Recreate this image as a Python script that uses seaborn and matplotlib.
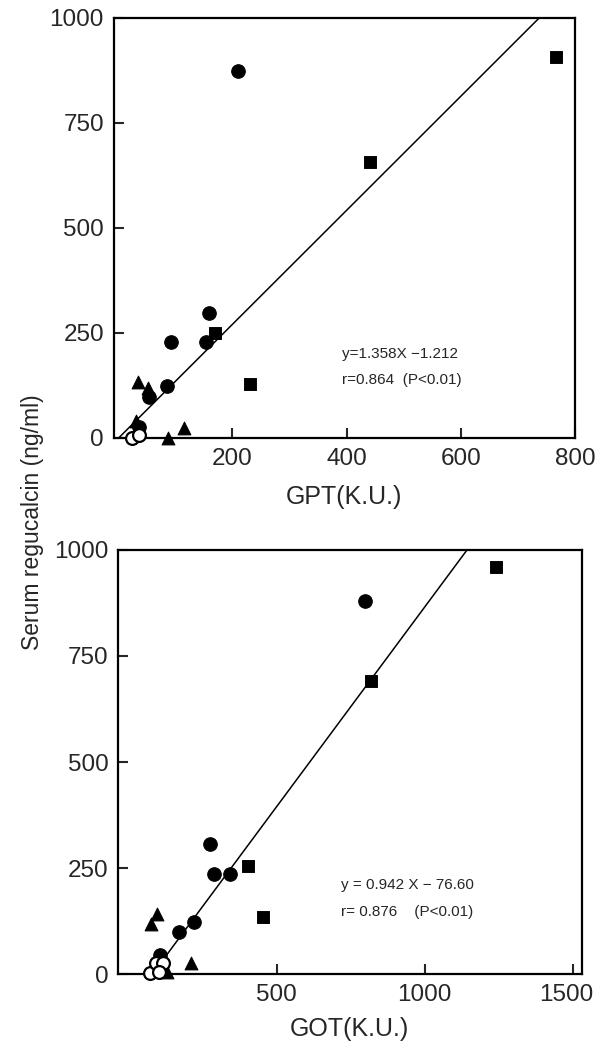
import numpy as np
import pandas as pd
import matplotlib
matplotlib.use("Agg")
import matplotlib.pyplot as plt
import matplotlib.transforms as mtransforms
import seaborn as sns

# %% values
gpt_circle_x = [209, 159, 154, 92, 85, 54, 37]
gpt_circle_y = [874, 298, 229, 229, 124, 98, 27]
gpt_square_x = [766, 441, 169, 230]
gpt_square_y = [908, 658, 251, 128]
gpt_tri_x = [35, 53, 32, 115, 88]
gpt_tri_y = [134, 118, 41, 23, 0]
gpt_open_x = [24, 36]
gpt_open_y = [0, 6]
gpt_fit = (1.358, -1.212)

got_circle_x = [800, 275, 289, 342, 223, 172, 106]
got_circle_y = [880, 307, 235, 237, 123, 100, 45]
got_square_x = [1242, 820, 404, 455]
got_square_y = [961, 690, 255, 135]
got_tri_x = [97, 78, 210, 129]
got_tri_y = [141, 118, 27, 5]
got_open_x = [73, 92, 118, 104]
got_open_y = [3, 25, 27, 6]
got_fit = (0.942, -76.60)

y_ticks = [0, 250, 500, 750, 1000]
gpt_ticks = [200, 400, 600, 800]
got_ticks = [500, 1000, 1500]

# %%
sns.set_style("ticks")
plt.rcParams['font.family'] = ['Liberation Sans', 'DejaVu Sans']

fig = plt.figure(figsize=(5.96, 10.44), dpi=100)
ax1 = fig.add_axes([0.1906, 0.5805, 0.7742, 0.4023])
ax2 = fig.add_axes([0.198, 0.067, 0.778, 0.4062])


def draw_panel(ax, cx, cy, sx, sy, tx, ty, ox, oy, fit, xlim, xticks, xlabel, lpad, eq, rtxt, txy):
    sns.scatterplot(x=cx, y=cy, marker='o', color='black', edgecolor='black', s=95, ax=ax, clip_on=False, zorder=3)
    sns.scatterplot(x=sx, y=sy, marker='s', color='black', edgecolor='black', s=70, ax=ax, clip_on=False, zorder=3)
    sns.scatterplot(x=tx, y=ty, marker='^', color='black', edgecolor='black', s=85, ax=ax, clip_on=False, zorder=3)
    sns.scatterplot(x=ox, y=oy, marker='o', color='white', edgecolor='black', linewidth=1.6, s=85, ax=ax, clip_on=False, zorder=4)
    slope, icpt = fit
    lx = np.array([max(0, -icpt / slope), (1000 - icpt) / slope])
    line = pd.DataFrame({'x': lx, 'y': slope * lx + icpt})
    sns.lineplot(data=line, x='x', y='y', color='black', linewidth=1.1, ax=ax, estimator=None)
    ax.set_xlim(*xlim)
    ax.set_ylim(0, 1000)
    ax.set_xticks(xticks)
    ax.set_yticks(y_ticks)
    ax.tick_params(direction='in', length=7, width=1.5, labelsize=17.5, pad=7)
    for s in ax.spines.values():
        s.set_linewidth(1.6)
        s.set_color('black')
    ax.set_xlabel(xlabel, fontsize=18, labelpad=lpad)
    ax.set_ylabel('')
    ax.text(txy[0], txy[1], eq, fontsize=11)
    ax.text(txy[0], txy[1] - 62, rtxt, fontsize=11)


draw_panel(ax1, gpt_circle_x, gpt_circle_y, gpt_square_x, gpt_square_y,
           gpt_tri_x, gpt_tri_y, gpt_open_x, gpt_open_y, gpt_fit,
           (-8, 800), gpt_ticks, 'GPT(K.U.)', 11,
           'y=1.358X \u22121.212', 'r=0.864  (P<0.01)', (392, 190))
draw_panel(ax2, got_circle_x, got_circle_y, got_square_x, got_square_y,
           got_tri_x, got_tri_y, got_open_x, got_open_y, got_fit,
           (-35, 1530), got_ticks, 'GOT(K.U.)', 8,
           'y = 0.942 X \u2212 76.60', 'r= 0.876    (P<0.01)', (719, 200))

# last label of the lower axis sits a little left of its tick, as in the print
fig.canvas.draw()
lab = ax2.get_xticklabels()[-1]
lab.set_transform(lab.get_transform() + mtransforms.ScaledTranslation(-7 / 100, 0, fig.dpi_scale_trans))

fig.text(0.054, 0.5, 'Serum regucalcin (ng/ml)', rotation=90, fontsize=16.5,
         ha='center', va='center')

fig.savefig('out.png', dpi=100)
